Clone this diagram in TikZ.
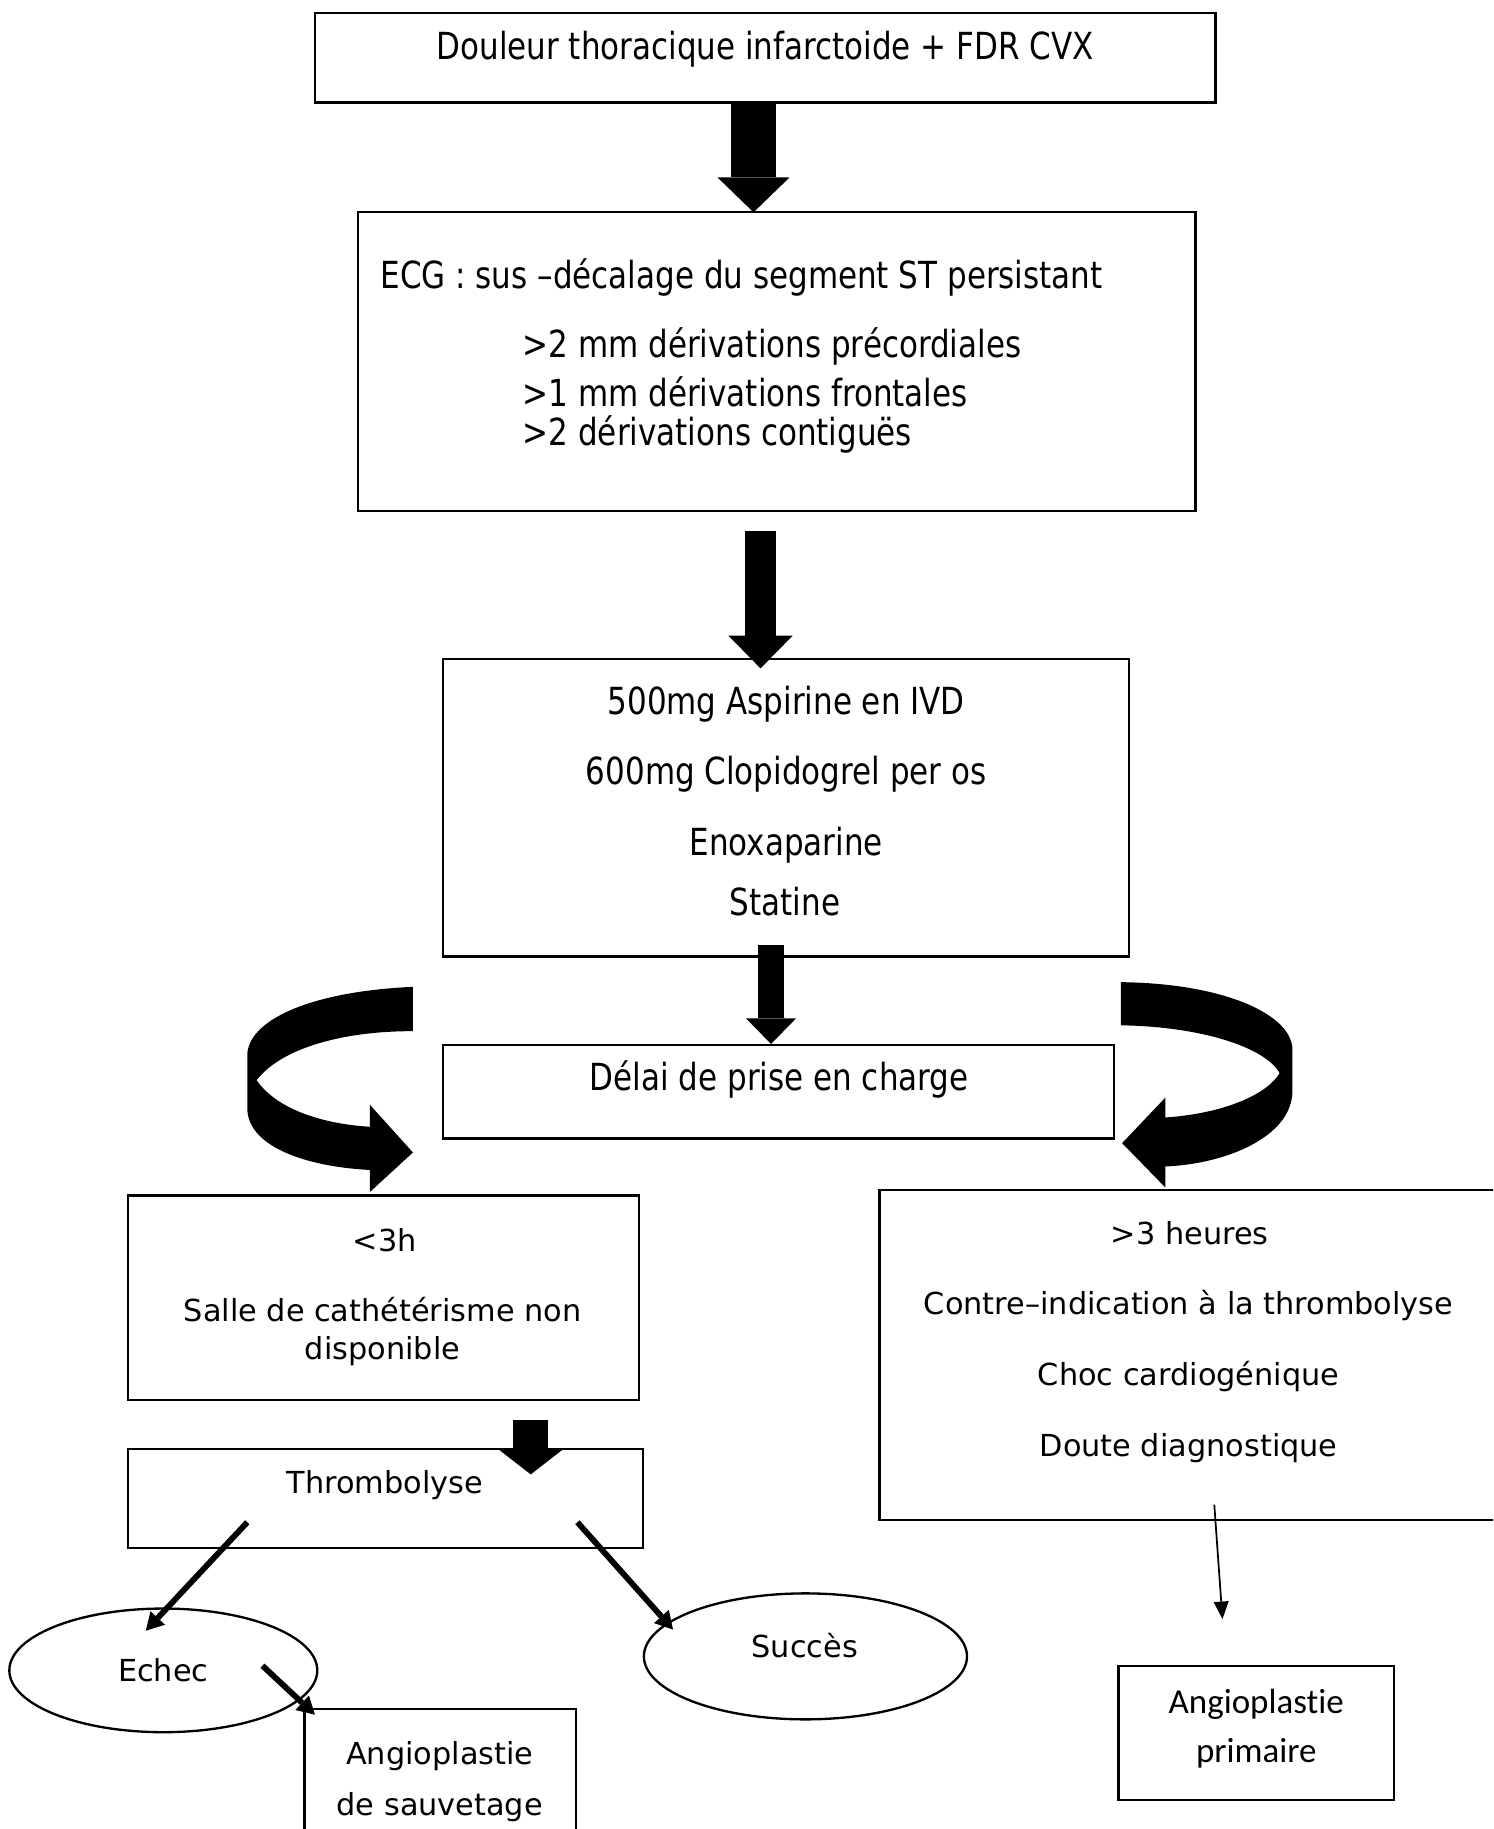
\documentclass[tikz,border=0pt]{standalone}
\usepackage{fontspec}
\setmainfont{DejaVu Sans}
\newfontfamily\condfont[FakeStretch=0.83]{DejaVu Sans}
\newfontfamily\calfont[Ligatures=NoCommon]{Carlito}
\usetikzlibrary{arrows.meta,shapes.geometric,calc}

\begin{document}
\begin{tikzpicture}[x=1pt,y=-1pt,
  box/.style={draw,line width=2pt,anchor=north west,inner sep=0pt,outer sep=0pt},
  oval/.style={draw,ellipse,line width=2pt,inner sep=0pt,outer sep=0pt,
    font=\fontsize{26}{31}\selectfont},
  cond/.style={font=\condfont\fontsize{32}{38}\selectfont,anchor=mid,inner sep=0pt,yshift=-9pt},
  norm/.style={font=\fontsize{26}{31}\selectfont,anchor=mid,inner sep=0pt,yshift=-8pt},
  cal/.style={font=\calfont\fontsize{30}{36}\selectfont,anchor=mid,inner sep=0pt,yshift=-8pt},
  blockarrow/.style n args={3}{line width=#1pt,
    -{Triangle[width=#2pt,length=#3pt,line width=0pt]}},
  thinarrow/.style={line width=5pt,-{Triangle[width=17pt,length=15pt,line width=0pt]}},
  hairarrow/.style={line width=1.5pt,-{Triangle[width=13pt,length=15pt,line width=0pt]}},
  curl/.style={fill=black}
]
\clip (0,0) rectangle (1280,1568);

% boxes
\node[box,minimum width=772pt,minimum height=77pt] (douleur) at (270,11) {};
\node[box,minimum width=718pt,minimum height=256pt] (ecg) at (307,182) {};
\node[box,minimum width=588pt,minimum height=255pt] (trait) at (380,565) {};
\node[box,minimum width=575pt,minimum height=80pt] (delai) at (380,896) {};
\node[box,minimum width=438pt,minimum height=175pt] (court) at (110,1025) {};
\node[box,minimum width=530pt,minimum height=283pt] (long) at (754,1020) {};
\node[box,minimum width=441pt,minimum height=85pt] (thrombo) at (110,1242) {};
\node[box,minimum width=233pt,minimum height=120pt] (sauvetage) at (261,1465) {};
\node[box,minimum width=236pt,minimum height=115pt] (primaire) at (959,1428) {};
\node[oval,minimum width=264pt,minimum height=106pt] (echec) at (140,1432) {Echec};
\node[oval,minimum width=277pt,minimum height=108pt] (succes) at (690.5,1420) {};

% texts
\node[cond] (t1) at (656,39) {Douleur thoracique infarctoide + FDR CVX};
\node[cond,anchor=mid west] (t2) at (326,236) {ECG : sus –décalage du segment ST persistant};
\node[cond,anchor=mid west] (t2a) at (448,295) {>2 mm dérivations précordiales};
\node[cond,anchor=mid west] (t2b) at (448,337) {>1 mm dérivations frontales};
\node[cond,anchor=mid west] (t2c) at (448,370) {>2 dérivations contiguës};
\node[cond] (t3a) at (674,601) {500mg Aspirine en IVD};
\node[cond] (t3b) at (674,661) {600mg Clopidogrel per os};
\node[cond] (t3c) at (674,722) {Enoxaparine};
\node[cond] (t3d) at (673,773) {Statine};
\node[cond] (t4) at (668,923) {Délai de prise en charge};
\node[norm] (t5a) at (330,1062) {<3h};
\node[norm] (t5b) at (328,1122) {Salle de cathétérisme non};
\node[norm] (t5c) at (328,1155) {disponible};
\node[norm] (t6a) at (1020,1056) {>3 heures};
\node[norm] (t6b) at (1019,1116) {Contre–indication à la thrombolyse};
\node[norm] (t6c) at (1019,1177) {Choc cardiogénique};
\node[norm] (t6d) at (1019,1238) {Doute diagnostique};
\node[norm] (t7) at (330,1270) {Thrombolyse};
\node[norm] (t8) at (690,1410) {Succès};
\node[norm] (t9a) at (377,1502) {Angioplastie};
\node[norm] (t9b) at (377,1546) {de sauvetage};
\node[cal] (t10a) at (1077,1458) {Angioplastie};
\node[cal] (t10b) at (1077,1500) {primaire};

% straight block arrows
\draw[blockarrow={38}{62}{30}] ($(douleur.south)+(-10,0)$) -- ($(ecg.north)+(-20,0)$);
\draw[blockarrow={26}{55}{28}] ($(ecg.south)+(-14,17)$) -- ($(trait.north)+(-22,8)$);
\draw[blockarrow={22}{43}{22}] ($(trait.south)+(-13,-10)$) -- ($(delai.north)+(-6.5,-1)$);
\draw[blockarrow={30}{54}{21}] ($(court.south)+(126,17)$) -- ($(thrombo.north)+(124.5,22)$);

% curled arrows around the delay box
\fill[curl] (354,846) .. controls (265,850) and (212,875) .. (212,905)
  -- (212,950) .. controls (212,982) and (260,1000) .. (317,1003)
  -- (317,1022) -- (354,988) -- (317,947) -- (317,966)
  .. controls (270,963) and (235,948) .. (220,926)
  .. controls (240,900) and (290,884) .. (354,884) -- cycle;
\fill[curl] (961,842) .. controls (1050,843) and (1108,870) .. (1108,900)
  -- (1108,935) .. controls (1108,975) and (1050,998) .. (999,1000)
  -- (999,1018) -- (962,980) -- (999,941) -- (999,958)
  .. controls (1045,955) and (1085,940) .. (1097,920)
  .. controls (1085,898) and (1030,880) .. (961,879) -- cycle;

% outcome arrows
\coordinate (thrL) at (212,1305);
\coordinate (thrR) at (495,1305);
\coordinate (echIn) at (225,1428);
\coordinate (longIn) at (1041,1290);
\coordinate (echTip) at (125,1398);
\coordinate (sucTip) at (577,1397);
\coordinate (sauvTip) at (270,1470);
\coordinate (primTip) at (1048,1388);
\draw[thinarrow] (thrL) -- (echTip);
\draw[thinarrow] (thrR) -- (sucTip);
\draw[thinarrow] (echIn) -- (sauvTip);
\draw[hairarrow] (longIn) -- (primTip);
\end{tikzpicture}
\end{document}
